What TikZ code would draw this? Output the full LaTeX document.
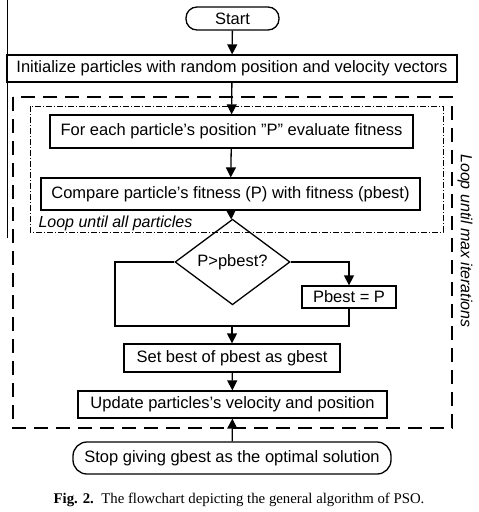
\documentclass[tikz,border=0pt]{standalone}
\usepackage{fontspec}
\setsansfont{Liberation Sans}
\setmainfont{Liberation Serif}
\usetikzlibrary{shapes.geometric,arrows.meta}

\tikzset{
  stepbox/.style={draw, line width=1.3pt, inner sep=0pt, font=\sffamily\fontsize{16.5}{19}\selectfont},
  endbox/.style={stepbox, rounded corners=11pt},
  testbox/.style={stepbox, diamond, minimum width=115pt, minimum height=60pt},
  flow/.style={line width=1.3pt},
  looplbl/.style={font=\sffamily\itshape\fontsize{16}{19}\selectfont},
}

\begin{document}
\begin{tikzpicture}[x=1pt, y=-1pt, >={Triangle[length=10pt,width=10pt]}]
	\useasboundingbox (0,0) rectangle (479,512);
	\path
	(232,326) coordinate (merge)
	(115,326) coordinate (leftturn);
	
	\node[endbox, minimum width=93pt, minimum height=23pt] (start) at (232.5,18.5) {Start};
	\node[stepbox, minimum width=450pt, minimum height=27pt] (init) at (232,68.5) {Initialize particles with random position and velocity vectors};
	\node[stepbox, minimum width=363pt, minimum height=33pt] (eval) at (231.5,131.5) {For each particle's position "P" evaluate fitness};
	\node[stepbox, minimum width=379pt, minimum height=32pt] (comp) at (230.5,194) {Compare particle's fitness (P) with fitness (pbest)};
	\node[testbox] (test) at (232.5,262) {P>pbest?};
	\node[stepbox, minimum width=94pt, minimum height=22pt] (upd) at (349,297) {Pbest = P};
	\node[stepbox, minimum width=216pt, minimum height=28pt] (gbest) at (232,358) {Set best of pbest as gbest};
	\node[stepbox, minimum width=309pt, minimum height=27pt] (move) at (232.5,404.5) {Update particles's velocity and position};
	\node[endbox, rounded corners=14pt, minimum width=318pt, minimum height=32pt] (stop) at (232,458) {Stop giving gbest as the optimal solution};
	
	% loop frames
	\draw[line width=1.4pt, dash pattern=on 14pt off 8pt] (13,97) rectangle (452,428);
	\draw[line width=0.6pt, dash pattern=on 6pt off 2pt on 1pt off 2pt] (30,106) rectangle (443,232);
	\node[looplbl, anchor=base west] (innerlbl) at (35,227) {Loop until all particles};
	\node[looplbl, rotate=-90] (outerlbl) at (465,241) {Loop until max iterations};
	
	\draw[flow,->] (start) -- (init);
	\draw[flow,->] (init) -- (eval);
	\draw[flow,->] (eval) -- (comp);
	\draw[flow,->] (comp) -- (test);
	\draw[flow] (test.west) -| (leftturn) -| (upd.south);
	\draw[flow,->] (test.east) -| (upd.north);
	\draw[flow,->] (merge) -- (gbest);
	\draw[flow,->] (gbest) -- (move);
	\draw[flow,->] (stop) -- (move);
	
	\draw[line width=0.8pt] (7,0) -- (7,238);
	\node[font=\fontsize{14.8}{17}\selectfont] (caption) at (239,500) {\textbf{Fig. 2.}\ \ The flowchart depicting the general algorithm of PSO.};
\end{tikzpicture}
\end{document}
